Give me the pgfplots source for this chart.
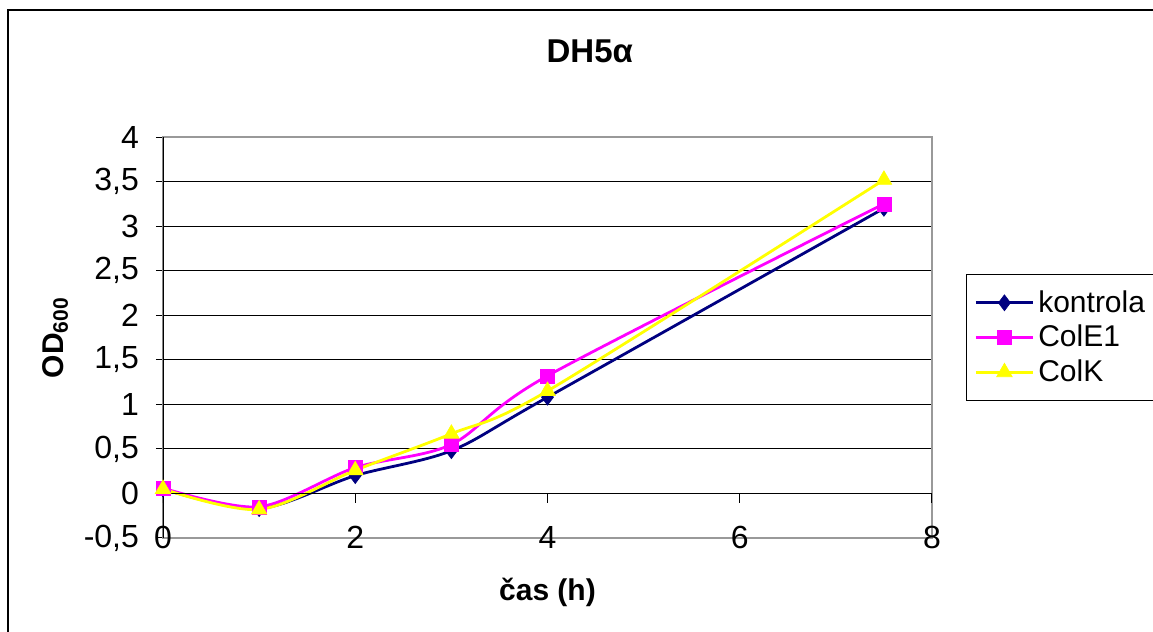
\documentclass[border=0pt]{standalone}
\usepackage{pgfplots}
\pgfplotsset{compat=1.18}
\usepackage{fontspec}
\setmainfont{Liberation Sans}
\definecolor{kon}{RGB}{0,0,128}
\definecolor{cole}{RGB}{255,0,255}
\definecolor{colk}{RGB}{255,255,0}
\begin{document}
\begin{tikzpicture}[x=1pt,y=1pt]
\path[use as bounding box] (-81.5,-47) rectangle (495,269);
\draw[black, line width=0.7pt] (-77.5,-80) -- (-77.5,264) -- (540,264);
\begin{axis}[
  scale only axis, width=384.5pt, height=200.5pt,
  xmin=0, xmax=8, ymin=-0.5, ymax=4,
  xtick={0,2,4,6,8}, ytick={-0.5,0,0.5,1,1.5,2,2.5,3,3.5,4},
  ymajorgrids, grid style={black, line width=0.5pt},
  axis line style={gray!80, line width=1pt},
  xtick style={draw=none},
  ytick pos=left, tick align=outside, major tick length=3.5pt,
  ytick style={black, line width=0.5pt},
  /pgf/number format/.cd, use comma, 1000 sep={}, assume math mode=true,
  /pgfplots/.cd,
  ticklabel style={font=\fontsize{16}{18}\selectfont},
  yticklabel style={xshift=-5pt},
  xticklabel style={anchor=center, yshift=4pt},
  title={DH5α},
  title style={at={(0.555,1.185)}, anchor=center, font=\bfseries\fontsize{16.5}{18}\selectfont},
  xlabel={čas (h)},
  xlabel style={at={(0.50,-0.135)}, anchor=center, font=\bfseries\fontsize{15}{17}\selectfont},
  ylabel={OD\textsubscript{600}},
  ylabel style={at={(-0.1404,0.5)}, anchor=center, font=\bfseries\fontsize{15}{17}\selectfont},
  legend style={at={(1,0.5)}, anchor=west, xshift=17pt, draw=black, line width=0.6pt,
    font=\fontsize{15}{17}\selectfont, row sep=1pt, inner xsep=4pt, inner ysep=6pt,
    cells={anchor=west}},
  legend image code/.code={\draw[mark repeat=2,mark phase=2,#1] plot coordinates {(0cm,0cm) (0.5cm,0cm) (1cm,0cm)};},
  every axis plot/.append style={line width=1.4pt, smooth, tension=0.5},
]
\addplot[kon, mark=diamond*, mark size=4pt, mark options={solid, fill=kon, line width=0.3pt}]
  coordinates {(0,0.05) (1,-0.17) (2,0.20) (3,0.48) (4,1.08) (7.5,3.20)};
\addlegendentry{kontrola}
\addplot[cole, mark=square*, mark size=3.5pt, mark options={solid, fill=cole, line width=0.3pt}]
  coordinates {(0,0.06) (1,-0.15) (2,0.29) (3,0.55) (4,1.32) (7.5,3.25)};
\addlegendentry{ColE1}
\addplot[colk, mark=triangle*, mark size=4.5pt, mark options={solid, fill=colk, line width=0.3pt}]
  coordinates {(0,0.05) (1,-0.18) (2,0.26) (3,0.67) (4,1.15) (7.5,3.52)};
\addlegendentry{ColK}
\draw[black, line width=0.6pt] (rel axis cs:0,0) -- (rel axis cs:0,1);
\draw[black, line width=0.7pt] (axis cs:0,0) -- (axis cs:8,0);
\pgfplotsinvokeforeach{0,2,4,6,8}{\draw[black, line width=0.5pt] (axis cs:#1,0) -- ([yshift=-5pt]axis cs:#1,0);}
\end{axis}
\end{tikzpicture}
\end{document}
